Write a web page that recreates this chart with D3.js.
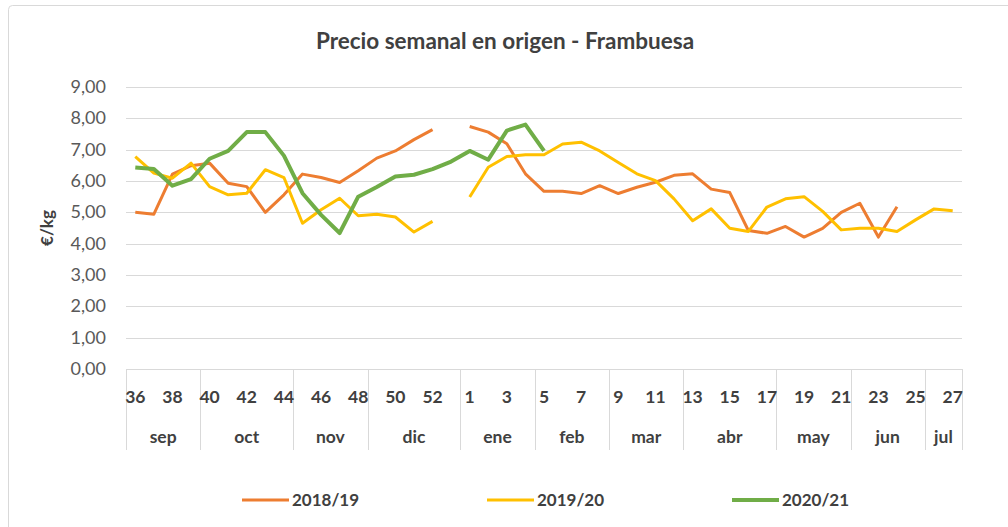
<!DOCTYPE html>
<html>
<head>
<meta charset="utf-8">
<script src="https://cdn.jsdelivr.net/npm/d3@7"></script>
<style>
  body { margin: 0; background: #fff; }
  svg { font-family: Lato, "Open Sans", sans-serif; }
</style>
</head>
<body>
<div id="chart"></div>
<script>
// weeks shown on the axis, sep 2020 -> jul 2021 (week 53 included)
const weeks = [36,37,38,39,40,41,42,43,44,45,46,47,48,49,50,51,52,53,
  1,2,3,4,5,6,7,8,9,10,11,12,13,14,15,16,17,18,19,20,21,22,23,24,25,26,27]
const weekLabels = [36,38,40,42,44,46,48,50,52,1,3,5,7,9,11,13,15,17,19,21,23,25,27]

// months and how many weeks each one spans
const months = ["sep","oct","nov","dic","ene","feb","mar","abr","may","jun","jul"]
const monthWeeks = [4,5,4,5,4,4,4,5,4,4,2]

const seriesNames = ["2018/19","2019/20","2020/21"]
const seriesColors = ["#ED7D31","#FFC000","#70AD47"]

// €/kg, null = no data
const s1819 = [5.00,4.94,6.22,6.49,6.57,5.93,5.82,5.00,5.56,6.22,6.11,5.95,6.33,6.73,6.96,7.32,7.64,null,
  7.74,7.56,7.19,6.23,5.67,5.67,5.60,5.85,5.60,5.80,5.96,6.18,6.23,5.74,5.63,4.42,4.33,4.55,4.21,4.49,5.00,5.29,4.21,5.18,null,null,null]
const s1920 = [6.78,6.25,6.09,6.57,5.82,5.56,5.61,6.36,6.11,4.65,5.08,5.45,4.89,4.94,4.85,4.37,4.71,null,
  5.49,6.44,6.78,6.84,6.84,7.18,7.24,6.96,6.59,6.23,6.01,5.43,4.73,5.11,4.49,4.39,5.17,5.43,5.50,5.03,4.44,4.49,4.49,4.39,4.76,5.11,5.05]
const s2021 = [6.43,6.38,5.85,6.06,6.71,6.96,7.56,7.56,6.81,5.61,4.92,4.34,5.50,5.81,6.14,6.20,6.38,6.62,
  6.96,6.68,7.61,7.80,6.96,null,null,null,null,null,null,null,null,null,null,null,null,null,null,null,null,null,null,null,null,null,null]

const yTicks = [0,1,2,3,4,5,6,7,8,9]

const width = 1008, height = 527
const plotLeft = 126, plotRight = 962, plotTop = 87, plotBottom = 369

const svg = d3.select("#chart").append("svg")
  .attr("width", width)
  .attr("height", height)

// chart frame
svg.append("rect")
  .attr("x", 8.5).attr("y", 5.5)
  .attr("width", 1010).attr("height", 530)
  .attr("rx", 4)
  .attr("fill", "none")
  .attr("stroke", "#d9d9d9")

svg.append("text")
  .attr("x", 505).attr("y", 49)
  .attr("text-anchor", "middle")
  .style("font-size", "22.5px").style("font-weight", "bold")
  .attr("fill", "#404040")
  .text("Precio semanal en origen - Frambuesa")

const idx = d3.range(weeks.length)
const x = d3.scaleBand().domain(idx).range([plotLeft, plotRight])
const y = d3.scaleLinear().domain([0, 9]).range([plotBottom, plotTop])

// gridlines + y labels
svg.append("g").selectAll("line")
  .data(yTicks.slice(1))
  .enter().append("line")
  .attr("x1", plotLeft).attr("x2", plotRight)
  .attr("y1", d => Math.round(y(d)) + 0.5).attr("y2", d => Math.round(y(d)) + 0.5)
  .attr("stroke", "#d9d9d9")

svg.append("g").selectAll("text")
  .data(yTicks)
  .enter().append("text")
  .attr("x", 106).attr("y", d => y(d) + 6)
  .attr("text-anchor", "end")
  .style("font-size", "18px")
  .attr("fill", "#595959")
  .text(d => d3.format(".2f")(d).replace(".", ","))

svg.append("text")
  .attr("transform", "translate(53," + (y(4.5)) + ") rotate(-90)")
  .attr("text-anchor", "middle")
  .style("font-size", "17px").style("font-weight", "bold")
  .attr("fill", "#404040")
  .text("€/kg")

// x axis line
svg.append("line")
  .attr("x1", plotLeft).attr("x2", plotRight)
  .attr("y1", plotBottom + 0.5).attr("y2", plotBottom + 0.5)
  .attr("stroke", "#d9d9d9")

// month separators
let edges = [0]
monthWeeks.forEach(n => edges.push(edges[edges.length - 1] + n))
const bw = x.bandwidth()
const edgeX = i => i < weeks.length ? x(i) : x(weeks.length - 1) + bw

svg.append("g").selectAll("line")
  .data(edges)
  .enter().append("line")
  .attr("x1", d => Math.round(edgeX(d)) + 0.5).attr("x2", d => Math.round(edgeX(d)) + 0.5)
  .attr("y1", plotBottom).attr("y2", 450)
  .attr("stroke", "#d9d9d9")

svg.append("g").selectAll("text")
  .data(months)
  .enter().append("text")
  .attr("x", (d, i) => (edgeX(edges[i]) + edgeX(edges[i + 1])) / 2)
  .attr("y", 443)
  .attr("text-anchor", "middle")
  .style("font-size", "17.5px").style("font-weight", "bold")
  .attr("fill", "#404040")
  .text(d => d)

svg.append("g").selectAll("text")
  .data(weekLabels)
  .enter().append("text")
  .attr("x", d => x(weeks.indexOf(d)) + bw / 2)
  .attr("y", 403)
  .attr("text-anchor", "middle")
  .style("font-size", "17.5px").style("font-weight", "bold")
  .attr("fill", "#404040")
  .text(d => d)

// series lines
const line = d3.line()
  .defined(d => d != null)
  .x((d, i) => x(i) + bw / 2)
  .y(d => y(d))

const allSeries = [s1819, s1920, s2021]
allSeries.forEach((s, k) => {
  svg.append("path")
    .datum(s)
    .attr("d", line)
    .attr("fill", "none")
    .attr("stroke", seriesColors[k])
    .attr("stroke-width", k == 2 ? 4 : 3)
    .attr("stroke-linejoin", "round")
})

// legend
const legendX = [242, 487, 732]
const lg = svg.append("g").selectAll("g")
  .data(seriesNames)
  .enter().append("g")
  .attr("transform", (d, i) => "translate(" + legendX[i] + ",500)")
lg.append("line")
  .attr("x1", 0).attr("x2", 47)
  .attr("stroke", (d, i) => seriesColors[i])
  .attr("stroke-width", (d, i) => i == 2 ? 4 : 3)
lg.append("text")
  .attr("x", 50).attr("y", 6)
  .style("font-size", "17px").style("font-weight", "bold")
  .attr("fill", "#404040")
  .text(d => d)
</script>
</body>
</html>
